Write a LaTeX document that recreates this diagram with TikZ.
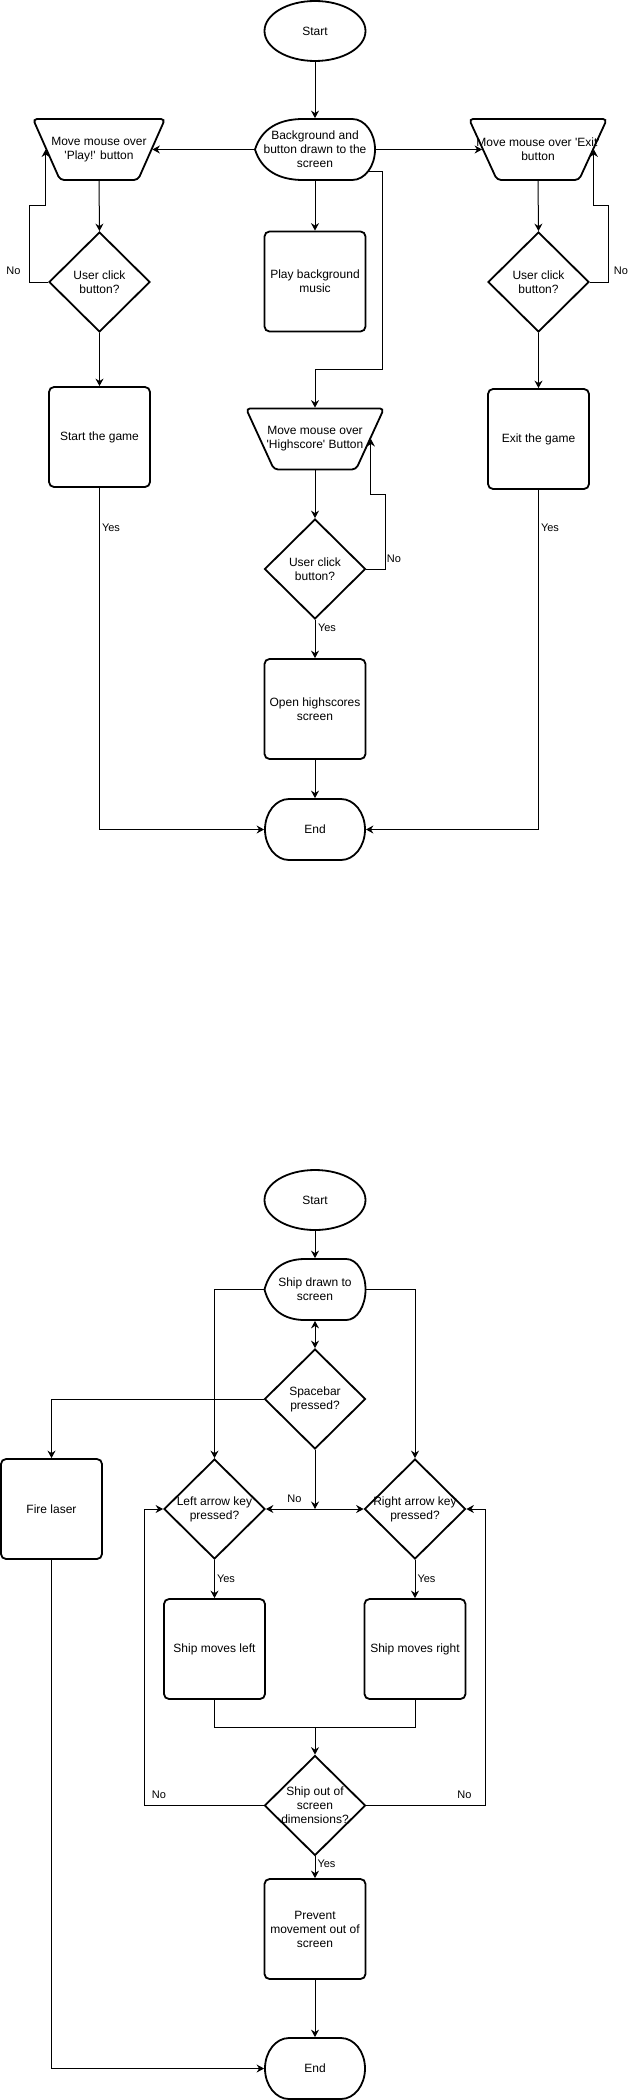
\documentclass[tikz,border=0pt]{standalone}
\usepackage{fontspec}
\setmainfont{Liberation Sans}
\usetikzlibrary{shapes.geometric,arrows.meta,calc}
\tikzset{
  >={Stealth[length=7.5pt,width=8pt,inset=2.5pt]},
  shp/.style={draw=black, line width=1.8pt},
  box/.style={rectangle, shp, rounded corners=5pt, minimum width=101pt, minimum height=100pt, inner sep=0pt},
  dia/.style={diamond, shp, minimum width=101pt, minimum height=100pt, inner sep=0pt},
  ell/.style={ellipse, shp, minimum width=101pt, minimum height=60pt, inner sep=0pt},
  hold/.style={rectangle, inner sep=0pt, outer sep=0.9pt},
  txt/.style={font=\fontsize{12}{14}\selectfont, align=center, inner sep=0pt},
  txtc/.style={label={[txt]center:{#1}}},
  lbl/.style={font=\fontsize{11}{13}\selectfont, inner sep=0pt},
  con/.style={line width=1pt, ->},
  con2/.style={line width=1pt, <->},
  lin/.style={line width=1pt},
}
\newcommand\dispout[3]{%
  \draw[shp, shift={(#1.center)}] ({-0.5*#2},0)
    .. controls ({-0.447*#2},{0.333*#3}) and ({-0.307*#2},{0.5*#3}) .. ({-0.1*#2},{0.5*#3})
    -- ({0.31*#2},{0.5*#3})
    arc[start angle=90,end angle=-90,x radius={0.19*#2},y radius={0.5*#3}]
    -- ({-0.1*#2},{-0.5*#3})
    .. controls ({-0.307*#2},{-0.5*#3}) and ({-0.447*#2},{-0.333*#3}) .. ({-0.5*#2},0) -- cycle;}
\newcommand\termout[1]{%
  \draw[shp, shift={(#1.center)}] (0,30.5) -- (26,30.5)
    arc[start angle=90,end angle=-90,x radius=24,y radius=30.5]
    -- (-26,-30.5)
    arc[start angle=270,end angle=90,x radius=24,y radius=30.5] -- cycle;}
\newcommand\trapout[3]{%
  \draw[shp, rounded corners=4pt, shift={(#1.center)}] (0,30.5) -- (#2,30.5) -- (#3,-30.5) -- (-#3,-30.5) -- (-#2,30.5) -- cycle;}
\begin{document}
\begin{tikzpicture}[x=1pt,y=1pt]
\fill[white] (0,0) rectangle (642,-2100);
\useasboundingbox (0,0) rectangle (642,-2100);

% ---------------- top diagram ----------------
\node[ell, txtc={Start}] (s1) at (315,-31) {};
\node[hold, minimum width=120pt, minimum height=61pt, txtc={Background and\\button drawn to the\\screen}] (bg) at (315,-149.5) {};
\dispout{bg}{120}{61}
\node[hold, minimum width=105pt, minimum height=61pt, txtc={Move mouse over\\\textquotesingle Play!\textquotesingle{} button}] (play) at (99,-149.5) {};
\trapout{play}{66}{39}
\node[hold, minimum width=110pt, minimum height=61pt, txtc={Move mouse over \textquotesingle Exit\textquotesingle\\button}] (exm) at (538,-149.5) {};
\trapout{exm}{69}{41}
\node[box, txtc={Play background\\music}] (music) at (315,-281.5) {};
\node[dia, txtc={User click\\button?}] (d1) at (99.5,-282) {};
\node[dia, txtc={User click\\button?}] (d2) at (538.5,-282) {};
\node[box, txtc={Start the game}] (game) at (99.5,-437) {};
\node[box, txtc={Exit the game}] (quit) at (538.5,-439) {};
\node[hold, minimum width=110pt, minimum height=61pt, txtc={Move mouse over\\\textquotesingle Highscore\textquotesingle{} Button}] (hs) at (315,-439) {};
\trapout{hs}{69}{41}
\node[dia, txtc={User click\\button?}] (d3) at (315,-569) {};
\node[box, txtc={Open highscores\\screen}] (open) at (315,-709) {};
\node[hold, minimum width=100pt, minimum height=61pt, txtc={End}] (end1) at (315,-829.5) {};
\termout{end1}

\coordinate (bgx) at (367.5,-172);

\draw[con] (s1.south) -- (bg.north);
\draw[con] (bg.west) -- (play.east);
\draw[con] (bg.east) -- (exm.west);
\draw[con] (bg.south) -- (music.north);
\draw[con] (bgx) -- (382,-172) -- (382,-369) -| (hs.north);
\draw[con] (play.south) -- (d1.north);
\draw[con] (d1.west) -| (29.5,-206) -| (play.west);
\draw[con] (exm.south) -- (d2.north);
\draw[con] (d2.east) -| (608.5,-206) -| (exm.east);
\draw[con] (d1.south) -- (game.north);
\draw[con] (d2.south) -- (quit.north);
\draw[con] (game.south) |- (end1.west);
\draw[con] (quit.south) |- (end1.east);
\draw[con] (hs.south) -- (d3.north);
\draw[con] (d3.east) -| (385.5,-494) -| (hs.east);
\draw[con] (d3.south) -- (open.north);
\draw[con] (open.south) -- (end1.north);

\node[lbl] (no1) at (13.5,-271) {No};
\node[lbl] (no2) at (621,-271) {No};
\node[lbl] (yes1) at (111,-528) {Yes};
\node[lbl] (yes2) at (550,-528) {Yes};
\node[lbl] (no3) at (394,-559) {No};
\node[lbl] (yes3) at (327,-628) {Yes};

% ---------------- bottom diagram ----------------
\node[ell, txtc={Start}] (s2) at (315,-1200) {};
\node[hold, minimum width=101pt, minimum height=61pt, txtc={Ship drawn to\\screen}] (ship) at (315,-1289.5) {};
\dispout{ship}{101}{61}
\node[dia, txtc={Spacebar\\pressed?}] (sp) at (315,-1399) {};
\node[box, txtc={Fire laser}] (fire) at (51.5,-1509) {};
\node[dia, txtc={Left arrow key\\pressed?}] (dl) at (214.5,-1509) {};
\node[dia, txtc={Right arrow key\\pressed?}] (dr) at (415,-1509) {};
\node[box, txtc={Ship moves left}] (ml) at (214.5,-1649) {};
\node[box, txtc={Ship moves right}] (mr) at (415,-1649) {};
\node[dia, txtc={Ship out of\\screen\\dimensions?}] (so) at (315,-1805.5) {};
\node[box, txtc={Prevent\\movement out of\\screen}] (prev) at (315,-1929) {};
\node[hold, minimum width=100pt, minimum height=61pt, txtc={End}] (end2) at (315,-2068.5) {};
\termout{end2}

\coordinate (jn) at (315,-1509);
\coordinate (mj) at (315,-1727);

\draw[con] (s2.south) -- (ship.north);
\draw[con2] (ship.south) -- (sp.north);
\draw[con] (sp.west) -| (fire.north);
\draw[con] (ship.west) -| (dl.north);
\draw[con] (ship.east) -| (dr.north);
\draw[con] (sp.south) -- (jn);
\draw[con] (jn) -- (dl.east);
\draw[con] (jn) -- (dr.west);
\draw[con] (dl.south) -- (ml.north);
\draw[con] (dr.south) -- (mr.north);
\draw[lin] (ml.south) |- (mj);
\draw[lin] (mr.south) |- (mj);
\draw[con] (mj) -- (so.north);
\draw[con] (so.west) -| (144.5,-1509) -- (dl.west);
\draw[con] (so.east) -| (485,-1509) -- (dr.east);
\draw[con] (so.south) -- (prev.north);
\draw[con] (prev.south) -- (end2.north);
\draw[con] (fire.south) |- (end2.west);

\node[lbl] (no4) at (294.5,-1499) {No};
\node[lbl] (yes4) at (226,-1579) {Yes};
\node[lbl] (yes5) at (426.5,-1579) {Yes};
\node[lbl] (no5) at (159,-1795) {No};
\node[lbl] (no6) at (464.5,-1795) {No};
\node[lbl] (yes6) at (326.5,-1864) {Yes};
\end{tikzpicture}
\end{document}
